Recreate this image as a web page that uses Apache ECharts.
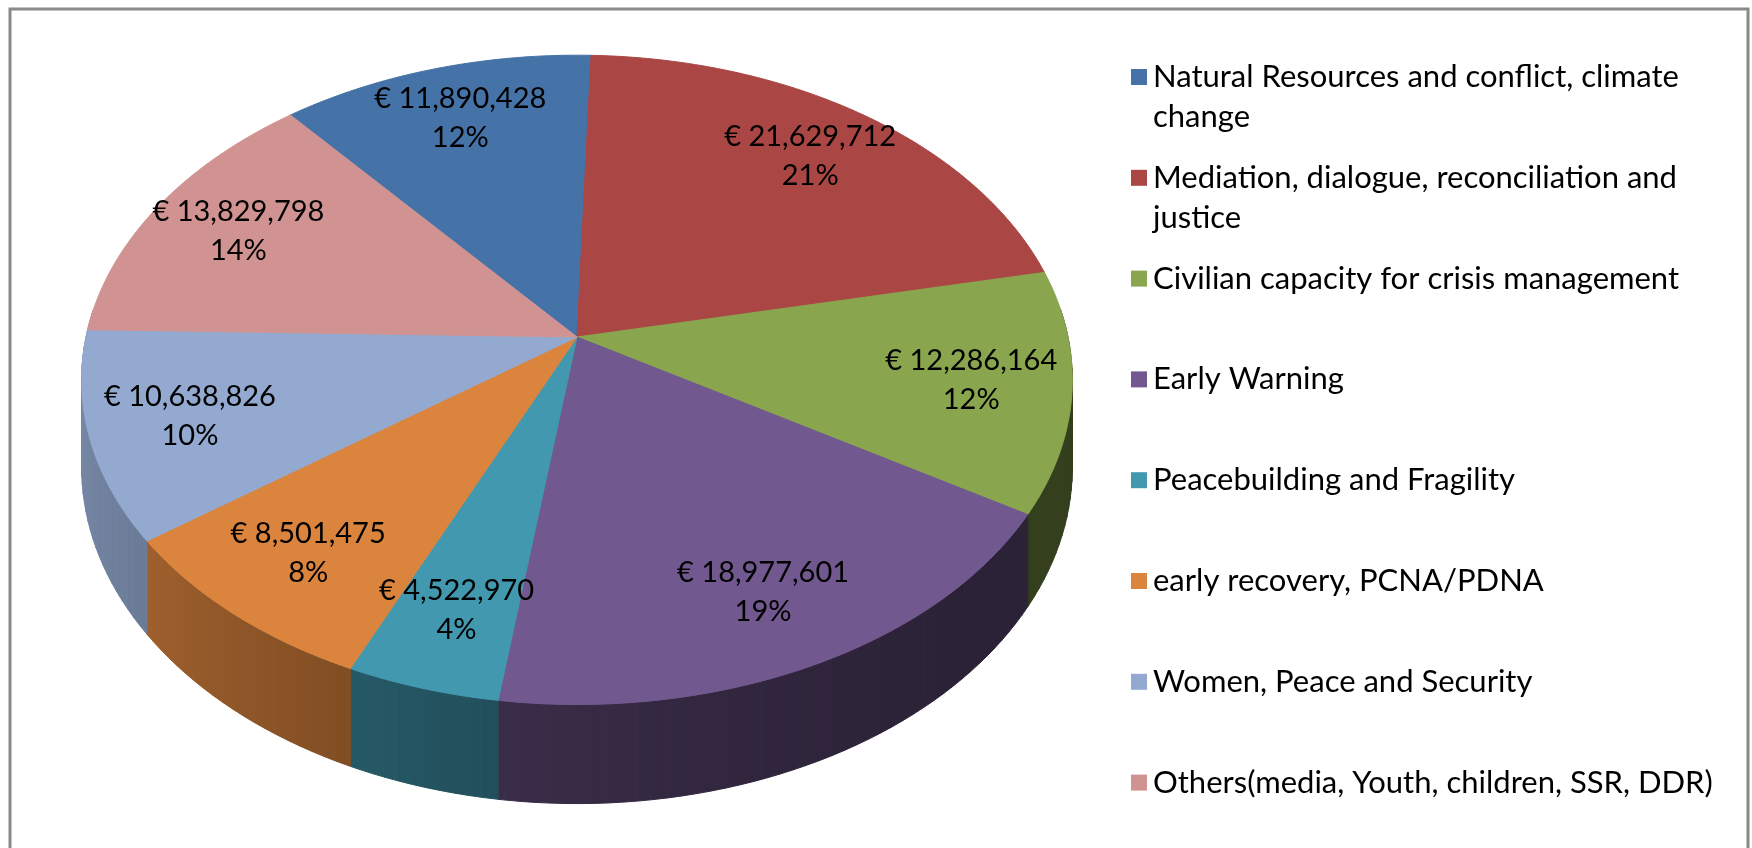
<!DOCTYPE html>
<html>
<head>
<meta charset="utf-8">
<title>Funding by theme</title>
<script src="https://cdn.jsdelivr.net/npm/echarts@6/dist/echarts.min.js"></script>
<style>
    html, body { margin: 0; padding: 0; background: #fff; }
    #main { width: 1752px; height: 848px; }
</style>
</head>
<body>
<div id="main"></div>
<script>
var categories = [
    'Natural Resources and conflict, climate change',
    'Mediation, dialogue, reconciliation and justice',
    'Civilian capacity for crisis management',
    'Early Warning',
    'Peacebuilding and Fragility',
    'early recovery, PCNA/PDNA',
    'Women, Peace and Security',
    'Others(media, Youth, children, SSR, DDR)'
];
var amounts = [11890428, 21629712, 12286164, 18977601, 4522970, 8501475, 10638826, 13829798];

var colors = ['#4572A7', '#AA4643', '#89A54E', '#71588F', '#4198AF', '#DB843D', '#93A9CF', '#D19392'];
var FONT = 'Lato, "Liberation Sans", sans-serif';

// fake perspective of the excel 3d pie
var cx = 577, cy = 337, sx = 491, sy = 319, k = 0.132, depth = 86;
var startDeg = -130;
var labelR = 0.8;
var DEG = Math.PI / 180;

var total = amounts.reduce(function(a, b) { return a + b; }, 0);
var angles = [];
var acc = startDeg * DEG;
amounts.forEach(function(v) {
    var sweep = v / total * Math.PI * 2;
    angles.push([acc, acc + sweep]);
    acc += sweep;
});

function proj(r, a, drop) {
    var X = r * Math.cos(a), Y = r * Math.sin(a);
    var d = 1 - k * Y;
    return [cx + sx * X / d, cy + (sy * Y + (drop || 0)) / d];
}

function shade(hex, f) {
    var n = parseInt(hex.slice(1), 16);
    var r = Math.round(((n >> 16) & 255) * f);
    var g = Math.round(((n >> 8) & 255) * f);
    var b = Math.round((n & 255) * f);
    return 'rgb(' + r + ',' + g + ',' + b + ')';
}

// light comes from the left, front/right side stays dark
function light(a) {
    var q = (1 - Math.cos(a)) / 2;
    return 0.38 + 0.42 * q * q;
}

function wallItem(params, api) {
    var i = params.dataIndex;
    var lo = Math.max(angles[i][0], -5 * DEG);
    var hi = Math.min(angles[i][1], 185 * DEG);
    var children = [];
    var step = 1.5 * DEG;
    for (var a = lo; a < hi; a += step) {
        var b = Math.min(a + step, hi);
        var c = shade(colors[i], light((a + b) / 2));
        children.push({
            type: 'polygon',
            shape: { points: [proj(1, a, 0), proj(1, b, 0), proj(1, b, depth), proj(1, a, depth)] },
            style: { fill: c, stroke: c, lineWidth: 1 }
        });
    }
    return { type: 'group', children: children };
}

function topItem(params, api) {
    var i = params.dataIndex;
    var a0 = angles[i][0], a1 = angles[i][1];
    var pts = [[cx, cy]];
    var n = Math.max(4, Math.ceil((a1 - a0) / (0.5 * DEG)));
    for (var j = 0; j <= n; j++) {
        pts.push(proj(1, a0 + (a1 - a0) * j / n, 0));
    }
    return {
        type: 'polygon',
        shape: { points: pts },
        style: { fill: colors[i], stroke: colors[i], lineWidth: 1 }
    };
}

function labelItem(params, api) {
    var i = params.dataIndex;
    var v = api.value(0);
    var pos = proj(labelR, (angles[i][0] + angles[i][1]) / 2, 0);
    return {
        type: 'text',
        x: pos[0],
        y: pos[1],
        style: {
            text: '€ ' + v.toLocaleString('en-US') + '\n' + Math.round(v / total * 100) + '%',
            font: '29px ' + FONT,
            lineHeight: 39,
            fill: '#000',
            align: 'center',
            verticalAlign: 'middle'
        }
    };
}

var legendItems = [];
categories.forEach(function(name, i) {
    var y = 77 + i * 100.8;
    legendItems.push({
        type: 'rect',
        shape: { x: 1131, y: y - 8, width: 16, height: 16 },
        style: { fill: colors[i] }
    });
    legendItems.push({
        type: 'text',
        x: 1153,
        y: y - 20,
        style: {
            text: name,
            font: '31px ' + FONT,
            lineHeight: 40,
            width: 590,
            overflow: 'break',
            fill: '#000',
            verticalAlign: 'top'
        }
    });
});

var dom = document.getElementById('main');
var myChart = echarts.init(dom);

var option = {
    animation: false,
    backgroundColor: '#fff',
    graphic: [{
        type: 'rect',
        shape: { x: 10, y: 9, width: 1738, height: 900 },
        style: { fill: 'none', stroke: '#8a8a8a', lineWidth: 3 },
        silent: true
    }].concat(legendItems),
    series: [{
        type: 'custom',
        name: 'walls',
        coordinateSystem: 'none',
        renderItem: wallItem,
        data: amounts,
        silent: true,
        z: 1
    }, {
        type: 'custom',
        name: 'top',
        coordinateSystem: 'none',
        renderItem: topItem,
        data: amounts,
        z: 2
    }, {
        type: 'custom',
        name: 'labels',
        coordinateSystem: 'none',
        renderItem: labelItem,
        data: amounts,
        silent: true,
        z: 3
    }]
};

myChart.setOption(option);
</script>
</body>
</html>
